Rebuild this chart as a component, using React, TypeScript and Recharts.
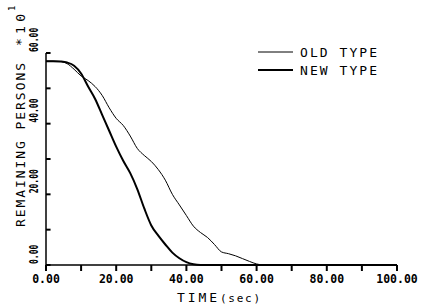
import { LineChart, Line, XAxis, YAxis, ReferenceLine, Customized } from 'recharts';

const TIME = [0, 2, 4, 6, 8, 10, 12, 14, 16, 18, 20, 22, 24, 26, 28, 30, 32, 34, 36, 38, 40, 42, 44, 46, 48, 50, 52, 54, 56, 58, 60, 62, 100];
const OLD_TYPE = [57.7, 57.7, 57.6, 57, 55.4, 53.5, 52.2, 50.5, 48, 44.5, 41.5, 39.5, 36.5, 33, 31, 29.3, 27, 24, 20, 17, 14, 11, 9.2, 7.8, 5.8, 3.7, 3.2, 2.6, 1.8, 1, 0.3, 0, 0];
const NEW_TYPE = [57.7, 57.7, 57.6, 57.3, 56.4, 54.2, 50.5, 47, 42.5, 38, 33.5, 29.5, 26, 21.5, 16, 11.2, 8.3, 5.8, 3.5, 1.9, 0.8, 0.2, 0, 0, 0, 0, 0, 0, 0, 0, 0, 0, 0];

const X_TICKS = [0, 10, 20, 30, 40, 50, 60, 70, 80, 90, 100];
const Y_TICKS = [0, 10, 20, 30, 40, 50, 60];

const data = TIME.map((t, i) => ({ t, old: OLD_TYPE[i], neu: NEW_TYPE[i] }));

const INK = '#000';
const MONO = '"DejaVu Sans Mono", monospace';

// labels only on every other tick
function XTick({ x, y, payload }: any) {
  const v = payload.value;
  if (v % 20 !== 0) return null;
  return (
    <text x={x} y={y + 12} textAnchor="middle" fontFamily={MONO} fontSize={11.5} fontWeight={700} fill={INK}>
      {v.toFixed(2)}
    </text>
  );
}

// rotated, condensed labels like the plotter font
function YTick({ x, y, payload }: any) {
  const v = payload.value;
  if (v % 20 !== 0) return null;
  return (
    <g transform={`translate(${x - 8} ${y - 1}) rotate(-90) scale(0.62 1)`}>
      <text x={0} y={0} textAnchor="start" fontFamily={MONO} fontSize={13} fontWeight={700} fill={INK}>
        {v.toFixed(2)}
      </text>
    </g>
  );
}

// titles and legend
function Overlay() {
  return (
    <g fontFamily={MONO} fill={INK}>
      <text x={25} y={145} transform="rotate(-90 25 145)" textAnchor="middle" fontSize={13} textLength={164}>
        REMAINING PERSONS
      </text>
      <text x={25} y={46} transform="rotate(-90 25 46)" textAnchor="start" fontSize={13} textLength={32}>
        *10
      </text>
      <text x={15} y={11} transform="rotate(-90 15 11)" textAnchor="start" fontSize={9}>
        1
      </text>
      <text x={177} y={302} fontSize={13} textLength={40}>
        TIME
      </text>
      <text x={220} y={302} fontSize={11} textLength={40}>
        (sec)
      </text>

      <line x1={258} y1={52} x2={293} y2={52} stroke={INK} strokeWidth={1} />
      <text x={300} y={56.5} fontSize={13} textLength={77}>
        OLD TYPE
      </text>
      <line x1={258} y1={70} x2={293} y2={70} stroke={INK} strokeWidth={2} />
      <text x={300} y={74.5} fontSize={13} textLength={77}>
        NEW TYPE
      </text>
    </g>
  );
}

export default function App() {
  return (
    <div style={{ position: 'absolute', left: 0, top: 0, background: '#fff' }}>
      <LineChart width={427} height={305} data={data} margin={{ top: 53, right: 30, left: 0, bottom: 0 }}>
        <XAxis
          dataKey="t"
          type="number"
          domain={[0, 100]}
          ticks={X_TICKS}
          height={40}
          tickSize={6}
          tickMargin={0}
          tickLine={{ stroke: INK, strokeWidth: 2 }}
          tick={<XTick />}
          axisLine={{ stroke: INK, strokeWidth: 1.5 }}
          interval={0}
        />
        <YAxis
          type="number"
          domain={[0, 60]}
          ticks={Y_TICKS}
          width={46}
          tickSize={0}
          tickMargin={0}
          tickLine={false}
          tick={<YTick />}
          axisLine={{ stroke: INK, strokeWidth: 1.5 }}
          interval={0}
        />
        {/* inward y ticks */}
        {Y_TICKS.map((v) => (
          <ReferenceLine
            key={`y${v}`}
            segment={[{ x: 0, y: v }, { x: 1.3, y: v }]}
            stroke={INK}
            strokeWidth={2}
            ifOverflow="visible"
          />
        ))}
        <Line dataKey="old" type="monotone" stroke={INK} strokeWidth={1} dot={false} isAnimationActive={false} />
        <Line dataKey="neu" type="monotone" stroke={INK} strokeWidth={2} dot={false} isAnimationActive={false} />
        <Customized component={Overlay} />
      </LineChart>
    </div>
  );
}
